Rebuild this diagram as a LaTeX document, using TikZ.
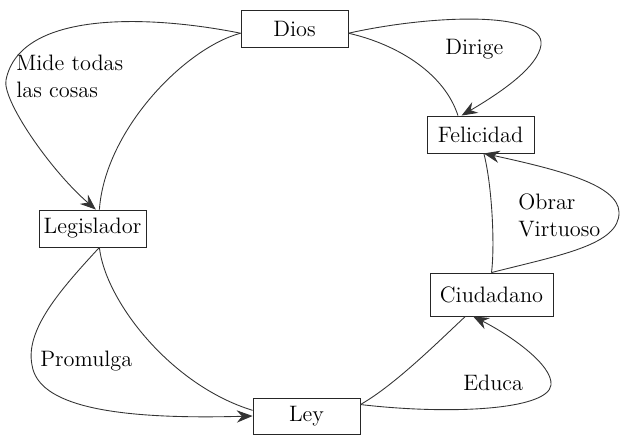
\documentclass[tikz,border=0pt]{standalone}
\usetikzlibrary{shapes,arrows.meta,positioning}

\tikzset{
  caja/.style={draw=black!85, line width=0.5pt, inner sep=0pt,
    minimum width=2.14cm, minimum height=0.74cm, font=\fontsize{12.7}{15}\selectfont},
  etiqueta/.style={align=left, anchor=west, inner sep=0pt, font=\fontsize{12.7}{15.5}\selectfont},
  lazo/.style={draw=black!80, line width=0.5pt},
  flecha/.style={lazo, -{Stealth[length=9pt,width=7pt,inset=3pt]}}
}

\begin{document}
\begin{tikzpicture}[x=0.02cm, y=0.02cm]
				\useasboundingbox (0,0) rectangle (621,-435);
				% cajas
				\node [caja] (dios)  at (294.5,-28.5) {Dios};
				\node [caja] (felic) at (480.5,-134.5) {Felicidad};
				\node [caja, minimum width=2.46cm, minimum height=0.86cm] (ciud) at (491.5,-294.5) {Ciudadano};
				\node [caja, minimum height=0.72cm] (ley)  at (306.5,-416) {Ley};
				\node [caja] (legis) at (92.5,-228.5) {Legislador};
				% etiquetas
				\node [etiqueta] (mide)  at (16,-76) {Mide todas\\las cosas};
				\node [etiqueta] (dirige) at (445,-49) {Dirige};
				\node [etiqueta] (obrar) at (518,-215) {Obrar\\Virtuoso};
				\node [etiqueta] (educa) at (463,-383) {Educa};
				\node [etiqueta] (prom)  at (40,-361) {Promulga};
				% Dios -> Legislador
				\draw [lazo] (dios.185) .. controls (185,-48) and (105,-130) .. (legis.70);
				\draw [flecha] (dios.185) .. controls (150,-15) and (20,-10) .. (6,-80)
					.. controls (2,-100) and (50,-170) .. (legis.80);
				% Dios -> Felicidad
				\draw [lazo] (dios.355) .. controls (400,-45) and (445,-75) .. (felic.140);
				\draw [flecha] (dios.355) .. controls (430,-15) and (545,-10) .. (541,-45)
					.. controls (538,-66) and (505,-90) .. (felic.135);
				% Ciudadano -> Felicidad
				\draw [lazo] (ciud.north) .. controls (495,-245) and (492,-185) .. (felic.-80);
				\draw [flecha] (ciud.north) .. controls (560,-255) and (620,-245) .. (619,-212)
					.. controls (618,-185) and (560,-170) .. (felic.-80);
				% Ley -> Ciudadano
				\draw [lazo] (ley.12) .. controls (395,-385) and (440,-340) .. (ciud.-140);
				\draw [flecha] (ley.12) .. controls (450,-415) and (548,-410) .. (551,-385)
					.. controls (553,-365) and (510,-335) .. (ciud.-130);
				% Legislador -> Ley
				\draw [lazo] (legis.-70) .. controls (105,-300) and (170,-385) .. (ley.174);
				\draw [flecha] (legis.-70) .. controls (60,-290) and (25,-330) .. (32,-365)
					.. controls (38,-405) and (110,-420) .. (ley.west);
\end{tikzpicture}
\end{document}
